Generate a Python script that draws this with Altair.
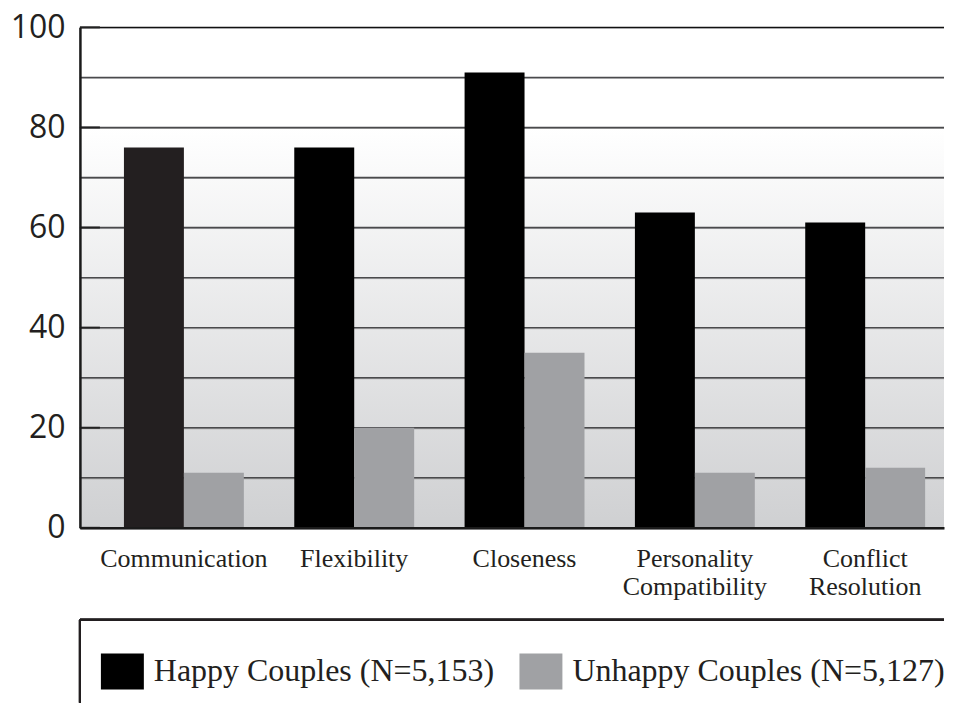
import altair as alt
import pandas as pd

categories = ["Communication", "Flexibility", "Closeness",
              "Personality\nCompatibility", "Conflict\nResolution"]
happy = [76, 76, 91, 63, 61]
unhappy = [11, 20, 35, 11, 12]
series_names = ["Happy Couples (N=5,153)", "Unhappy Couples (N=5,127)"]
series_colors = ["#000000", "#a0a1a4"]
y_ticks = [0, 10, 20, 30, 40, 50, 60, 70, 80, 90, 100]
y_major = [0, 20, 40, 60, 80, 100]

rows = []
for c, h, u in zip(categories, happy, unhappy):
    rows.append({"cat": c, "series": series_names[0], "value": h})
    rows.append({"cat": c, "series": series_names[1], "value": u})
df = pd.DataFrame(rows)
major_df = pd.DataFrame({"v": y_major})
grid_df = pd.DataFrame({"v": y_ticks})

W, H = 865, 501

yscale = alt.Scale(domain=[0, 100], nice=False)

background = alt.Chart(df).mark_rect(
    color=alt.LinearGradient(
        gradient="linear", x1=0, y1=0, x2=0, y2=1,
        stops=[alt.GradientStop(offset=0, color="#ffffff"),
               alt.GradientStop(offset=0.2, color="#ffffff"),
               alt.GradientStop(offset=1, color="#cfd0d2")]
    )
).encode(x=alt.value(0), x2=alt.value(W), y=alt.value(0), y2=alt.value(H))

grid_light = alt.Chart(grid_df).mark_rule(color="#9a9a9c", strokeWidth=1, yOffset=1).encode(
    y=alt.Y("v:Q", scale=yscale), x=alt.value(0), x2=alt.value(W)
)
grid_dark = alt.Chart(grid_df).mark_rule(strokeWidth=1.4).encode(
    y=alt.Y("v:Q", scale=yscale), x=alt.value(0), x2=alt.value(W),
    color=alt.condition("datum.v == 100", alt.value("#111111"), alt.value("#4a4a4c")),
    strokeWidth=alt.condition("datum.v == 100", alt.value(2.4), alt.value(1.4)),
)

bars = alt.Chart(df).mark_bar().encode(
    x=alt.X("cat:N", sort=categories,
            scale=alt.Scale(paddingInner=0.296, paddingOuter=0.1846, align=0.70),
            axis=alt.Axis(title=None, labelAngle=0, labelFont="Liberation Serif",
                          labelFontSize=26, labelColor="#231f20", labelPadding=18,
                          labelLineHeight=28, labelBaseline="top",
                          labelExpr="split(datum.label, '\\n')",
                          ticks=False, domain=True, domainColor="#1a1a1a",
                          domainWidth=2.5, grid=False, zindex=1)),
    xOffset=alt.XOffset("series:N", sort=series_names,
                        scale=alt.Scale(paddingInner=0, paddingOuter=0)),
    y=alt.Y("value:Q", scale=yscale,
            axis=alt.Axis(title=None, values=y_major,
                          labelFont="Open Sans", labelFontSize=32,
                          labelColor="#231f20", labelPadding=15,
                          ticks=False, domain=True, domainColor="#1a1a1a",
                          domainWidth=2.5, grid=False, zindex=1)),
    color=alt.condition(
        "datum.cat == 'Communication' && datum.series == '" + series_names[0] + "'",
        alt.value("#231f20"),
        alt.Color("series:N", sort=series_names,
                  scale=alt.Scale(domain=series_names, range=series_colors),
                  legend=alt.Legend(title=None, orient="none", legendX=21, legendY=623,
                                    direction="horizontal", columns=2, padding=0,
                                    symbolType="M-1,-0.837L1,-0.837L1,0.837L-1,0.837Z",
                                    symbolSize=1849, symbolStrokeWidth=0,
                                    symbolOpacity=1,
                                    labelFont="Liberation Serif", labelFontSize=32,
                                    labelColor="#231f20", labelOffset=10,
                                    columnPadding=25, labelLimit=500))
    )
)

inner_ticks = alt.Chart(major_df).mark_rule(color="#222222", strokeWidth=2).encode(
    y=alt.Y("v:Q", scale=yscale), x=alt.value(0), x2=alt.value(20)
)

legend_top = alt.Chart(major_df).mark_rule(color="#231f20", strokeWidth=2).encode(
    x=alt.value(0), x2=alt.value(W), y=alt.value(593)
)
legend_left = alt.Chart(major_df).mark_rule(color="#231f20", strokeWidth=2).encode(
    x=alt.value(0), y=alt.value(593), y2=alt.value(676)
)

chart = alt.layer(background, grid_light, grid_dark, bars, inner_ticks,
                  legend_top, legend_left).properties(
    width=W, height=H,
    padding={"left": 2, "top": 3, "right": 0, "bottom": 0},
).configure(background="#ffffff").configure_view(stroke=None)

chart.save("out.html", embed_options={"renderer": "svg", "actions": False})
